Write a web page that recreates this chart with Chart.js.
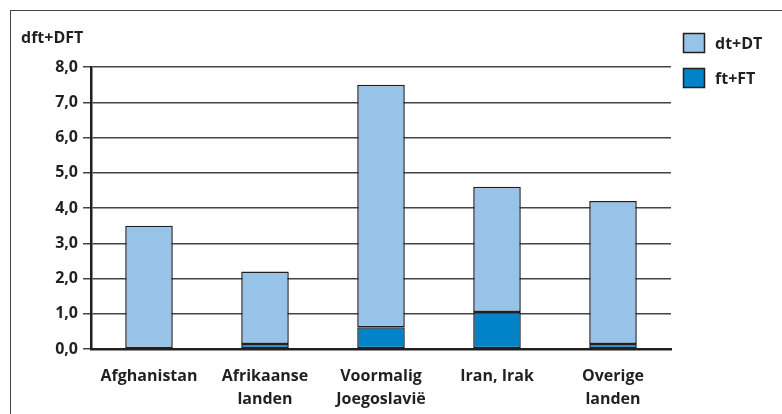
<!DOCTYPE html>
<html>
<head>
<meta charset="utf-8">
<script src="https://cdn.jsdelivr.net/npm/chart.js@4/dist/chart.umd.min.js"></script>
<style>
  html, body { margin: 0; padding: 0; background: #fff; }
  #wrap { position: relative; width: 782px; height: 414px; }
  #frame {
    position: absolute; left: 10px; top: 10px; width: 790px; height: 420px;
    border-top: 1.5px solid #444; border-left: 1.5px solid #444;
    pointer-events: none;
  }
</style>
</head>
<body>
<div id="wrap">
  <canvas id="grafico" width="782" height="414"></canvas>
  <div id="frame"></div>
</div>
<script>
const landen = [
  'Afghanistan',
  ['Afrikaanse', 'landen'],
  ['Voormalig', 'Joegoslavië'],
  'Iran, Irak',
  ['Overige', 'landen']
];

// totaal dft+DFT per groep, en het deel ft+FT
const totaal = [3.5, 2.2, 7.5, 4.6, 4.2];
const ftFT = [0.02, 0.14, 0.62, 1.05, 0.14];
const dtDT = totaal.map((t, i) => +(t - ftFT[i]).toFixed(2));

const yTicks = [0, 1, 2, 3, 4, 5, 6, 7, 8];

const FONT = '"Open Sans", "Liberation Sans", sans-serif';
const INKT = '#231f20';

const extraTekst = {
  id: 'extraTekst',
  afterDraw(chart) {
    const { ctx } = chart;
    ctx.save();
    ctx.font = `bold 16px ${FONT}`;
    ctx.fillStyle = INKT;
    ctx.textBaseline = 'middle';
    ctx.textAlign = 'left';
    ctx.fillText('dft+DFT', 21, 38);

    // legenda, bovenste reeks eerst
    const sets = chart.data.datasets.slice().reverse();
    sets.forEach((ds, i) => {
      const y = 33 + i * 35;
      ctx.fillStyle = ds.backgroundColor;
      ctx.fillRect(683, y, 22, 20);
      ctx.strokeStyle = INKT;
      ctx.lineWidth = 1.5;
      ctx.strokeRect(683.5, y + 0.5, 21, 19);
      ctx.fillStyle = INKT;
      ctx.fillText(ds.label, 715, y + 11);
    });
    ctx.restore();
  }
};

new Chart(document.getElementById('grafico'), {
  type: 'bar',
  data: {
    labels: landen,
    datasets: [
      {
        label: 'ft+FT',
        data: ftFT,
        backgroundColor: '#0083c9',
        borderColor: INKT,
        borderWidth: 1.5,
        borderSkipped: false,
        barPercentage: 0.41,
        categoryPercentage: 1
      },
      {
        label: 'dt+DT',
        data: dtDT,
        backgroundColor: '#97c3e8',
        borderColor: INKT,
        borderWidth: 1.5,
        borderSkipped: false,
        barPercentage: 0.41,
        categoryPercentage: 1
      }
    ]
  },
  options: {
    responsive: false,
    animation: false,
    layout: {
      padding: { left: 10, right: 111, top: 67, bottom: 0 }
    },
    plugins: {
      legend: { display: false },
      tooltip: { enabled: false }
    },
    scales: {
      x: {
        stacked: true,
        grid: { display: false },
        border: { color: INKT, width: 2.5 },
        ticks: {
          color: INKT,
          padding: 8,
          maxRotation: 0,
          autoSkip: false,
          font: { family: FONT, size: 16, weight: 'bold', lineHeight: 1.45 }
        },
        afterFit(scale) { scale.height = 65; }
      },
      y: {
        stacked: true,
        min: 0,
        max: 8,
        afterBuildTicks(scale) {
          scale.ticks = yTicks.map(v => ({ value: v }));
        },
        grid: {
          color: '#444',
          lineWidth: 1.5,
          tickLength: 8,
          drawTicks: true
        },
        border: { color: INKT, width: 2.5 },
        ticks: {
          color: INKT,
          padding: 5,
          font: { family: FONT, size: 16, weight: 'bold' },
          callback: v => v.toFixed(1).replace('.', ',')
        },
        afterFit(scale) { scale.width = 81; }
      }
    }
  },
  plugins: [extraTekst]
});
</script>
</body>
</html>
